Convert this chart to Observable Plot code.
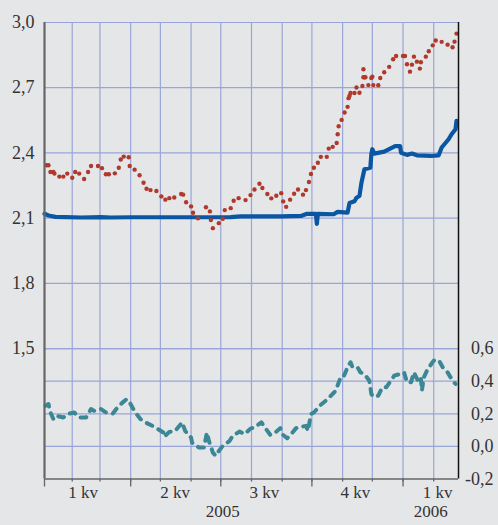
<!DOCTYPE html>
<html>
<head>
<meta charset="utf-8">
<script src="https://cdn.jsdelivr.net/npm/d3@7"></script>
<script src="https://cdn.jsdelivr.net/npm/@observablehq/plot@0.6"></script>
<style>
  html, body { margin: 0; padding: 0; background: #e5e6e8; }
  #chart { width: 498px; height: 525px; }
  #chart svg, #chart svg text, #chart svg g { font-family: "Liberation Serif", "Times New Roman", Tinos, "DejaVu Serif", serif !important; }
</style>
</head>
<body>
<div id="chart"></div>
<script>
// ---- Data ----
const redDates = ["2005-01-06","2005-01-08","2005-01-10","2005-01-13","2005-01-14","2005-01-19","2005-01-23","2005-01-27","2005-02-01","2005-02-04","2005-02-08","2005-02-13","2005-02-17","2005-02-20","2005-02-27","2005-03-03","2005-03-07","2005-03-10","2005-03-16","2005-03-20","2005-03-22","2005-03-25","2005-03-30","2005-03-31","2005-04-05","2005-04-10","2005-04-14","2005-04-17","2005-04-21","2005-04-27","2005-05-02","2005-05-06","2005-05-10","2005-05-15","2005-05-22","2005-05-24","2005-05-27","2005-06-01","2005-06-03","2005-06-08","2005-06-16","2005-06-20","2005-06-21","2005-06-23","2005-06-29","2005-07-03","2005-07-05","2005-07-11","2005-07-14","2005-07-19","2005-07-26","2005-07-31","2005-08-04","2005-08-09","2005-08-12","2005-08-17","2005-08-21","2005-08-26","2005-08-31","2005-09-02","2005-09-05","2005-09-09","2005-09-13","2005-09-17","2005-09-22","2005-09-25","2005-09-28","2005-09-30","2005-10-03","2005-10-07","2005-10-10","2005-10-16","2005-10-18","2005-10-22","2005-10-26","2005-10-27","2005-10-28","2005-10-31","2005-11-03","2005-11-06","2005-11-07","2005-11-08","2005-11-09","2005-11-13","2005-11-15","2005-11-18","2005-11-21","2005-11-22","2005-11-22","2005-11-23","2005-11-24","2005-11-27","2005-11-30","2005-12-01","2005-12-02","2005-12-07","2005-12-09","2005-12-13","2005-12-18","2005-12-22","2005-12-25","2006-01-01","2006-01-03","2006-01-05","2006-01-08","2006-01-10","2006-01-12","2006-01-15","2006-01-18","2006-01-19","2006-01-24","2006-01-27","2006-01-31","2006-02-03","2006-02-09","2006-02-15","2006-02-20","2006-02-22","2006-02-24"];
const redValues = [2.343,2.343,2.312,2.312,2.305,2.291,2.291,2.305,2.286,2.312,2.305,2.28,2.312,2.34,2.34,2.33,2.302,2.302,2.306,2.332,2.37,2.383,2.38,2.34,2.323,2.297,2.263,2.235,2.229,2.225,2.2,2.185,2.192,2.195,2.211,2.208,2.173,2.154,2.125,2.099,2.15,2.131,2.091,2.054,2.077,2.097,2.137,2.146,2.18,2.192,2.183,2.206,2.232,2.258,2.239,2.211,2.191,2.203,2.215,2.177,2.152,2.185,2.212,2.232,2.208,2.229,2.266,2.303,2.332,2.355,2.382,2.382,2.42,2.428,2.446,2.486,2.523,2.552,2.586,2.612,2.652,2.663,2.676,2.676,2.701,2.677,2.708,2.748,2.785,2.748,2.748,2.712,2.745,2.751,2.712,2.711,2.745,2.771,2.796,2.831,2.846,2.846,2.846,2.808,2.774,2.806,2.843,2.82,2.788,2.817,2.843,2.868,2.895,2.917,2.911,2.898,2.886,2.912,2.949];

const blueDates = ["2005-01-04","2005-01-08","2005-01-15","2005-01-25","2005-02-10","2005-03-02","2005-03-12","2005-04-01","2005-05-01","2005-06-11","2005-07-11","2005-07-21","2005-08-10","2005-08-31","2005-09-20","2005-09-26","2005-10-05","2005-10-06","2005-10-07","2005-10-23","2005-10-27","2005-11-06","2005-11-08","2005-11-13","2005-11-15","2005-11-18","2005-11-20","2005-11-23","2005-11-29","2005-11-30","2005-12-01","2005-12-03","2005-12-13","2005-12-20","2005-12-24","2005-12-29","2005-12-30","2006-01-05","2006-01-10","2006-01-15","2006-01-29","2006-02-06","2006-02-09","2006-02-16","2006-02-19","2006-02-23","2006-02-24"];
const blueValues = [2.12,2.112,2.106,2.105,2.103,2.105,2.103,2.104,2.104,2.104,2.105,2.108,2.108,2.108,2.11,2.12,2.12,2.074,2.12,2.118,2.129,2.125,2.17,2.178,2.194,2.202,2.263,2.325,2.332,2.394,2.417,2.397,2.406,2.422,2.431,2.431,2.401,2.391,2.397,2.389,2.386,2.389,2.425,2.463,2.486,2.509,2.548];

const tealDates = ["2005-01-05","2005-01-08","2005-01-10","2005-01-13","2005-01-16","2005-01-23","2005-01-27","2005-02-03","2005-02-08","2005-02-15","2005-02-20","2005-02-23","2005-03-02","2005-03-07","2005-03-14","2005-03-20","2005-03-24","2005-03-28","2005-03-31","2005-04-05","2005-04-11","2005-04-16","2005-04-25","2005-05-04","2005-05-05","2005-05-10","2005-05-16","2005-05-23","2005-05-26","2005-06-01","2005-06-02","2005-06-09","2005-06-14","2005-06-17","2005-06-19","2005-06-23","2005-06-26","2005-06-29","2005-07-03","2005-07-10","2005-07-13","2005-07-20","2005-07-25","2005-07-31","2005-08-04","2005-08-11","2005-08-14","2005-08-20","2005-08-24","2005-08-30","2005-09-01","2005-09-06","2005-09-10","2005-09-15","2005-09-20","2005-09-25","2005-09-27","2005-09-30","2005-10-03","2005-10-10","2005-10-17","2005-10-25","2005-10-30","2005-11-02","2005-11-06","2005-11-09","2005-11-11","2005-11-16","2005-11-19","2005-11-23","2005-11-28","2005-11-30","2005-12-02","2005-12-07","2005-12-11","2005-12-15","2005-12-21","2005-12-23","2005-12-29","2006-01-02","2006-01-05","2006-01-09","2006-01-12","2006-01-16","2006-01-19","2006-01-20","2006-01-22","2006-01-26","2006-02-01","2006-02-06","2006-02-11","2006-02-15","2006-02-20","2006-02-23"];
const tealValues = [0.249,0.26,0.208,0.167,0.188,0.177,0.198,0.208,0.177,0.177,0.229,0.218,0.229,0.208,0.202,0.249,0.27,0.29,0.27,0.214,0.167,0.147,0.12,0.085,0.058,0.089,0.095,0.147,0.095,0.054,0.023,-0.007,-0.007,0.085,0.034,-0.038,-0.058,-0.028,0.003,0.034,0.065,0.091,0.075,0.109,0.116,0.147,0.12,0.071,0.079,0.112,0.075,0.05,0.075,0.112,0.12,0.126,0.095,0.198,0.208,0.255,0.29,0.342,0.423,0.428,0.485,0.516,0.485,0.485,0.454,0.444,0.403,0.321,0.305,0.311,0.362,0.362,0.413,0.434,0.444,0.454,0.393,0.393,0.454,0.403,0.423,0.342,0.423,0.475,0.526,0.53,0.475,0.454,0.403,0.383];

const leftTicks = [1.5, 1.8, 2.1, 2.4, 2.7, 3.0];
const rightTicks = [-0.2, 0.0, 0.2, 0.4, 0.6];
const monthTicks = ["2005-02-01","2005-03-01","2005-04-01","2005-05-01","2005-06-01","2005-07-01","2005-08-01","2005-09-01","2005-10-01","2005-11-01","2005-12-01","2006-01-01","2006-02-01"];
const quarterTicks = ["2005-01-04","2005-04-01","2005-07-01","2005-10-01","2006-01-01"];
const quarterLabels = ["1 kv","2 kv","3 kv","4 kv","1 kv"];
const quarterLabelDates = ["2005-02-12","2005-05-16","2005-08-14","2005-11-14","2006-02-05"];
const yearLabels = ["2005","2006"];
const yearLabelDates = ["2005-07-03","2006-01-29"];

// ---- Scales / helpers ----
const xDomain = [new Date("2005-01-04"), new Date("2006-02-26")];
const leftDomain = [0.9, 3.0];
const rightDomain = [-0.2, 2.6];
const toLeft = v => leftDomain[0] + (v - rightDomain[0]) * (leftDomain[1] - leftDomain[0]) / (rightDomain[1] - rightDomain[0]);
const fmt = v => v.toFixed(1).replace(".", ",");

const red = redDates.map((d, i) => ({date: new Date(d), value: redValues[i]}));
const blue = blueDates.map((d, i) => ({date: new Date(d), value: blueValues[i]}));
const teal = tealDates.map((d, i) => ({date: new Date(d), value: tealValues[i]}));

const gridColor = "#99a5d8";
const textColor = "#333333";
const serif = "'Liberation Serif', 'Times New Roman', Tinos, 'DejaVu Serif', serif";

const chart = Plot.plot({
  width: 498,
  height: 525,
  marginLeft: 44,
  marginRight: 40,
  marginTop: 22,
  marginBottom: 46.5,
  style: {background: "#e5e6e8", color: textColor, fontFamily: serif},
  x: {type: "utc", domain: xDomain, axis: null},
  y: {domain: leftDomain, axis: null},
  marks: [
    // horizontal grid
    Plot.ruleY(leftTicks, {stroke: gridColor, strokeWidth: 1.2}),
    Plot.ruleY(rightTicks.filter(v => v > -0.2), {y: d => toLeft(d), stroke: gridColor, strokeWidth: 1.2}),
    // vertical grid
    Plot.ruleX(monthTicks, {x: d => new Date(d), stroke: gridColor, strokeWidth: 1.2}),
    // series
    Plot.line(teal, {x: "date", y: d => toLeft(d.value), stroke: "#3b8795", strokeWidth: 4, strokeDasharray: "6,7", strokeLinejoin: "round"}),
    Plot.line(blue, {x: "date", y: "value", stroke: "#0a56a3", strokeWidth: 4.2, strokeLinejoin: "round"}),
    Plot.dot(red, {x: "date", y: "value", r: 2.2, fill: "#b0392c", stroke: "none"}),
    // frame lines
    Plot.ruleX([xDomain[1]], {stroke: "#111", strokeWidth: 1.5}),
    Plot.ruleX([xDomain[0]], {stroke: "#666", strokeWidth: 2.2}),
    Plot.ruleY([leftDomain[0]], {stroke: "#666", strokeWidth: 1.5}),
    // x ticks
    Plot.axisX(monthTicks.map(d => new Date(d)), {tickSize: 3, tickFormat: () => "", stroke: "#666", strokeWidth: 1.3}),
    Plot.axisX(quarterTicks.map(d => new Date(d)), {tickSize: 8, tickFormat: () => "", stroke: "#666", strokeWidth: 1.3}),
    // x labels
    Plot.text(quarterLabels, {x: (d, i) => new Date(quarterLabelDates[i]), text: d => d, frameAnchor: "bottom", dy: 19, fontSize: 17, fontFamily: serif, fill: textColor}),
    Plot.text(yearLabels, {x: (d, i) => new Date(yearLabelDates[i]), text: d => d, frameAnchor: "bottom", dy: 38, fontSize: 17, fontFamily: serif, fill: textColor}),
    // y labels
    Plot.text(leftTicks, {y: d => d, text: fmt, frameAnchor: "left", dx: -10, textAnchor: "end", fontSize: 18, fontFamily: serif, fill: textColor}),
    Plot.text(rightTicks, {y: d => toLeft(d), text: fmt, frameAnchor: "right", dx: 35, textAnchor: "end", fontSize: 18, fontFamily: serif, fill: textColor})
  ]
});

document.getElementById("chart").appendChild(chart);
</script>
</body>
</html>
